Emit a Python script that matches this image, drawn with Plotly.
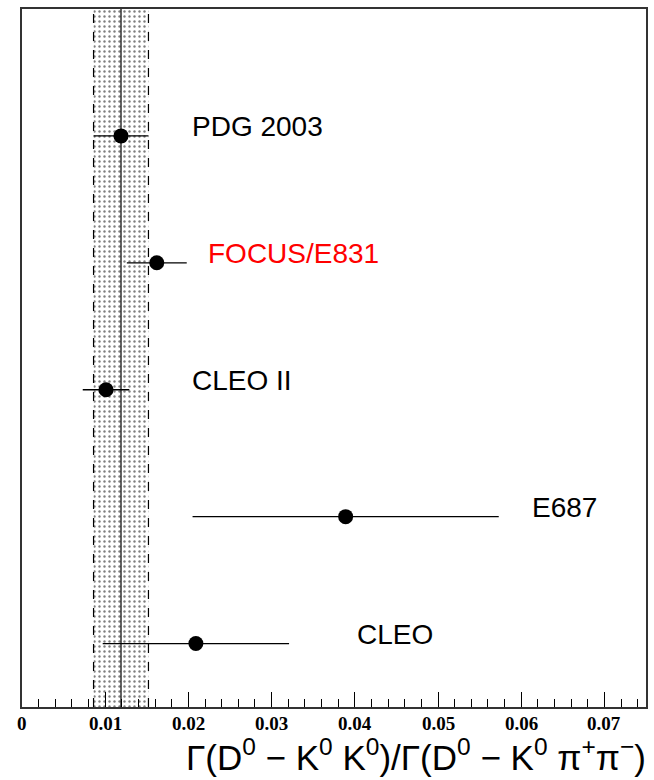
import plotly.graph_objects as go

# ---- data ----
experiments = ["CLEO", "E687", "CLEO II", "FOCUS/E831", "PDG 2003"]
ratio = [0.0209, 0.0389, 0.0101, 0.0162, 0.0119]
ratio_err = [0.0112, 0.0184, 0.0028, 0.0036, 0.0033]
label_colors = ["black", "black", "black", "red", "black"]
label_x = [0.0400, 0.0611, 0.0202, 0.0221, 0.0202]
tick_vals = [0, 0.01, 0.02, 0.03, 0.04, 0.05, 0.06, 0.07]
tick_text = ["0", "0.01", "0.02", "0.03", "0.04", "0.05", "0.06", "0.07"]
x_title = ("Γ(D<sup>0</sup> − K<sup>0</sup> K<sup>0</sup>)/"
           "Γ(D<sup>0</sup> − K<sup>0</sup> π<sup>+</sup>π<sup>−</sup>)")

y_pos = list(range(len(experiments)))
y_range = [-0.5, len(experiments)]

pdg_i = experiments.index("PDG 2003")
pdg_val = ratio[pdg_i]
pdg_err = ratio_err[pdg_i]
lo, hi = pdg_val - pdg_err, pdg_val + pdg_err

fig = go.Figure()

# PDG band with dotted pattern
fig.add_trace(go.Scatter(
    x=[lo, hi, hi, lo, lo],
    y=[y_range[0], y_range[0], y_range[1], y_range[1], y_range[0]],
    mode="lines", fill="toself", line=dict(width=0),
    fillcolor="rgba(0,0,0,0)",
    fillpattern=dict(shape=".", fgcolor="black", bgcolor="white",
                     size=5, solidity=0.18),
    hoverinfo="skip", showlegend=False))
# dashed edges and centre line
for xv, dash in [(lo, "dash"), (hi, "dash"), (pdg_val, "solid")]:
    fig.add_trace(go.Scatter(
        x=[xv, xv], y=y_range, mode="lines",
        line=dict(color="black", width=1.2, dash=dash),
        hoverinfo="skip", showlegend=False))

# measurements
fig.add_trace(go.Scatter(
    x=ratio, y=y_pos, mode="markers",
    marker=dict(color="black", size=15, symbol="circle"),
    error_x=dict(type="data", array=ratio_err, color="black",
                 thickness=1.3, width=0),
    showlegend=False))

for yi, name, lx, col in zip(y_pos, experiments, label_x, label_colors):
    fig.add_annotation(x=lx, y=yi, xref="x", yref="y", text=name,
                       showarrow=False, xanchor="left", yanchor="middle",
                       yshift=9,
                       font=dict(family="Liberation Sans, Arial", size=28,
                                 color=col))

# tick labels (bold serif, as in the reference)
for tv, tt in zip(tick_vals, tick_text):
    fig.add_annotation(x=tv, y=0, xref="x", yref="paper", text=f"<b>{tt}</b>",
                       showarrow=False, xanchor="center", yanchor="middle",
                       yshift=-16,
                       font=dict(family="Liberation Serif", size=19,
                                 color="black"))

fig.add_annotation(x=1, y=0, xref="paper", yref="paper", text=x_title,
                   showarrow=False, xanchor="right", yanchor="middle",
                   xshift=2, yshift=-48,
                   font=dict(family="Liberation Sans, Arial", size=35,
                             color="black"))

fig.update_layout(
    width=654, height=780,
    margin=dict(l=22, r=6, t=9, b=73),
    paper_bgcolor="white", plot_bgcolor="white",
    xaxis=dict(range=[0, 0.075], tickmode="array", tickvals=tick_vals,
               showticklabels=False,
               ticks="inside", ticklen=15, tickwidth=1.3, tickcolor="black",
               minor=dict(dtick=0.002, ticks="inside", ticklen=8,
                          tickwidth=1.3, tickcolor="black", showgrid=False),
               showgrid=False, zeroline=False,
               showline=True, linecolor="#333", linewidth=2, mirror=True),
    yaxis=dict(range=y_range, showticklabels=False, ticks="",
               showgrid=False, zeroline=False, showline=True,
               linecolor="#333", linewidth=2, mirror=True),
)

fig.write_html("out.html")
